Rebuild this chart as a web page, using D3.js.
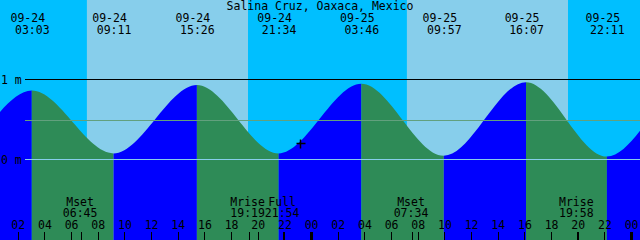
<!DOCTYPE html>
<html lang="en">
<head>
<meta charset="UTF-8">
<title>Salina Cruz tide</title>
<script src="https://d3js.org/d3.v7.min.js"></script>
<style>
  body { margin: 0; background: #fff; }
  svg { display: block; }
  text { font-family: "DejaVu Sans Mono", monospace; font-size: 11.5px; fill: #000; }
</style>
</head>
<body>
<div id="chart"></div>
<script>
// tide extremes (the first two and last two lie outside the window, guessed from the curve)
const tideTimes = ["09-23 14:50", "09-23 20:55", "09-24 03:03", "09-24 09:11", "09-24 15:26", "09-24 21:34",
                   "09-25 03:46", "09-25 09:57", "09-25 16:07", "09-25 22:11", "09-26 04:30", "09-26 10:40"];
const tideHeights = [0.84, 0.06, 0.855, 0.07, 0.925, 0.07, 0.94, 0.04, 0.96, 0.03, 0.97, 0.02];

const sunriseTimes = ["09-24 07:11", "09-25 07:11"];
const sunsetTimes = ["09-24 19:16", "09-25 19:16"];

const moonTimes = ["09-24 06:45", "09-24 19:19", "09-24 21:54", "09-25 07:34", "09-25 19:58"];
const moonLabels = ["Mset", "Mrise", "Full", "Mset", "Mrise"];

const depthLabels = ["0 m", "1 m"];
const depthValues = [0, 1];
const meanLevel = 0.49;

const markTime = "09-24 23:10";
const markHeight = 0.2;

const title = "Salina Cruz, Oaxaca, Mexico";
const startTime = "09-24 00:40", endTime = "09-26 00:40";

const width = 640, height = 240;
const parse = d3.timeParse("%m-%d %H:%M");
const fmtDate = d3.timeFormat("%m-%d"), fmtTime = d3.timeFormat("%H:%M"), fmtHour = d3.timeFormat("%H");

const x = d3.scaleTime().domain([parse(startTime), parse(endTime)]).range([0, width]);
const y = d3.scaleLinear().domain([0, 1]).range([159, 79]);

const tides = tideTimes.map((t, i) => ({ t: parse(t), h: tideHeights[i] }));

const svg = d3.select("#chart").append("svg")
    .attr("width", width).attr("height", height);

// sky: night everywhere, day between sunrise and sunset
svg.append("rect").attr("width", width).attr("height", height).attr("fill", "#00bfff");
svg.append("g").selectAll("rect")
    .data(sunriseTimes.map((s, i) => [parse(s), parse(sunsetTimes[i])]))
    .join("rect")
    .attr("x", d => x(d[0])).attr("width", d => x(d[1]) - x(d[0]))
    .attr("y", 0).attr("height", height)
    .attr("fill", "#87ceeb");

// water under the curve, green while falling and blue while rising
const area = d3.area()
    .x(d => x(d.t)).y0(height).y1(d => y(d.h))
    .curve(d3.curveMonotoneX);

svg.append("clipPath").attr("id", "water")
    .append("path").attr("d", area(tides));

svg.append("g").attr("clip-path", "url(#water)")
    .selectAll("rect")
    .data(d3.pairs(tides))
    .join("rect")
    .attr("x", d => x(d[0].t)).attr("width", d => x(d[1].t) - x(d[0].t))
    .attr("y", 0).attr("height", height)
    .attr("fill", d => d[1].h < d[0].h ? "#2e8b57" : "#0000ff");

// depth lines
svg.append("line")
    .attr("x1", 25).attr("x2", width)
    .attr("y1", Math.round(y(meanLevel)) + 0.5).attr("y2", Math.round(y(meanLevel)) + 0.5)
    .attr("stroke", "#62a07e");
svg.append("g").selectAll("line")
    .data(depthValues)
    .join("line")
    .attr("x1", 25).attr("x2", width)
    .attr("y1", d => Math.round(y(d)) + 0.5).attr("y2", d => Math.round(y(d)) + 0.5)
    .attr("stroke", d => d === 0 ? "#87ceeb" : "#000");
svg.append("g").selectAll("text")
    .data(depthValues)
    .join("text")
    .attr("x", 1).attr("y", d => y(d) + 4.5)
    .text((d, i) => depthLabels[i]);

// header
svg.append("text").attr("x", width / 2).attr("y", 9.5)
    .attr("text-anchor", "middle").text(title);

const shown = tides.filter(d => d.t >= x.domain()[0] && d.t <= x.domain()[1]);
const head = svg.append("g").attr("text-anchor", "middle");
head.selectAll(".date").data(shown).join("text").attr("class", "date")
    .attr("x", d => x(d.t) - 4).attr("y", 22).text(d => fmtDate(d.t));
head.selectAll(".time").data(shown).join("text").attr("class", "time")
    .attr("x", d => x(d.t) + 0.5).attr("y", 34).text(d => fmtTime(d.t));

// moon events
const moon = moonTimes.map((t, i) => ({ t: parse(t), label: moonLabels[i] }));
const moonG = svg.append("g").attr("text-anchor", "middle");
moonG.selectAll(".ml").data(moon).join("text").attr("class", "ml")
    .attr("x", d => x(d.t) - 1).attr("y", 206).text(d => d.label);
moonG.selectAll(".mt").data(moon).join("text").attr("class", "mt")
    .attr("x", d => x(d.t) - 1).attr("y", 217).text(d => fmtTime(d.t));

// hour axis along the bottom
const hours = x.ticks(d3.timeHour.every(2));
const axisG = svg.append("g");
axisG.selectAll("text").data(hours).join("text")
    .attr("x", d => x(d) + 0.5).attr("y", 229)
    .attr("text-anchor", "middle")
    .text(d => fmtHour(d));
axisG.selectAll("rect.tick").data(hours).join("rect").attr("class", "tick")
    .attr("x", d => d.getHours() === 0 ? Math.round(x(d)) - 1 : Math.round(x(d)))
    .attr("width", d => d.getHours() === 0 ? 3 : 1)
    .attr("y", 232).attr("height", 8)
    .attr("fill", "#000");
axisG.selectAll("rect.mtick").data(moon).join("rect").attr("class", "mtick")
    .attr("x", d => Math.round(x(d.t))).attr("width", 1)
    .attr("y", 232).attr("height", 8)
    .attr("fill", "#000");

// "+" marker
const mx = Math.round(x(parse(markTime))) + 0.5, my = Math.round(y(markHeight)) + 0.5;
svg.append("path")
    .attr("d", `M${mx - 4},${my}H${mx + 5}M${mx},${my - 4}V${my + 5}`)
    .attr("stroke", "#000").attr("stroke-width", 1.5);
</script>
</body>
</html>
